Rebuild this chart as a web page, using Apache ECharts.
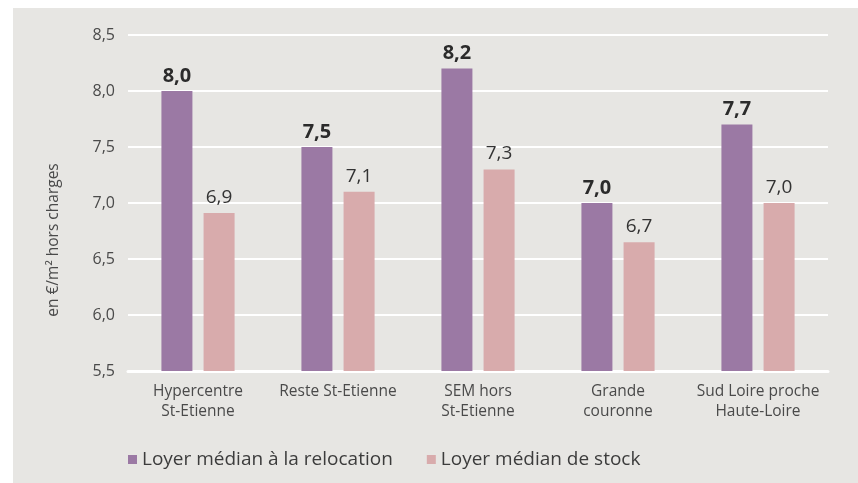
<!DOCTYPE html>
<html>
<head>
<meta charset="utf-8">
<script src="https://cdn.jsdelivr.net/npm/echarts@6/dist/echarts.min.js"></script>
<style>
    html, body {margin: 0; padding: 0; background: #ffffff;}
    #chart {position: absolute; left: 13px; top: 8px; width: 845px; height: 475px; background: #e7e6e3;}
</style>
</head>
<body>
<div id="chart"></div>
<script>
const FONT = '"Open Sans", sans-serif';

// ------------------ data ------------------
const categories = ['Hypercentre\nSt-Etienne', 'Reste St-Etienne', 'SEM hors\nSt-Etienne', 'Grande\ncouronne', 'Sud Loire proche\nHaute-Loire'];
const relocation = [8.0, 7.5, 8.2, 7.0, 7.7];   // Loyer médian à la relocation
const stock = [6.91, 7.1, 7.3, 6.65, 7.0];      // Loyer médian de stock
const yTicks = [5.5, 6.0, 6.5, 7.0, 7.5, 8.0, 8.5];

function frNum(v) {
    return Number(v).toFixed(1).replace('.', ',');
}

let myChart = echarts.init(document.getElementById('chart'), null, {renderer: 'canvas'});

let option = {
    animation: false,
    textStyle: {fontFamily: FONT},
    grid: {left: 115, right: 30, top: 27, bottom: 112},
    legend: {
        left: 110,
        top: 437,
        itemWidth: 9,
        itemHeight: 9,
        itemGap: 34,
        icon: 'rect',
        textStyle: {fontFamily: FONT, fontSize: 19, color: '#3c3c3c'},
        data: ['Loyer médian à la relocation', 'Loyer médian de stock']
    },
    xAxis: {
        type: 'category',
        data: categories,
        axisTick: {show: false},
        axisLine: {lineStyle: {color: '#ffffff', width: 3}},
        axisLabel: {fontFamily: FONT, fontSize: 15.5, color: '#4a4a4a', margin: 11, lineHeight: 20, interval: 0}
    },
    yAxis: {
        type: 'value',
        min: yTicks[0],
        max: yTicks[yTicks.length - 1],
        interval: 0.5,
        name: 'en €/m² hors charges',
        nameLocation: 'middle',
        nameGap: 66,
        // shift the title down a bit, as in the original
        nameTextStyle: {fontFamily: FONT, fontSize: 15.5, color: '#4a4a4a', padding: [0, 74, 0, 0]},
        axisLine: {show: false},
        axisTick: {show: false},
        splitLine: {lineStyle: {color: '#ffffff', width: 2}},
        axisLabel: {fontFamily: FONT, fontSize: 16, color: '#4a4a4a', margin: 13, formatter: frNum}
    },
    series: [
        {
            name: 'Loyer médian à la relocation',
            type: 'bar',
            data: relocation,
            barWidth: 31,
            barGap: '36%',
            itemStyle: {color: '#9b79a4'},
            label: {
                show: true, position: 'top', distance: 5,
                fontFamily: FONT, fontSize: 20, fontWeight: 'bold', color: '#2b2b2b',
                formatter: p => frNum(p.value)
            }
        },
        {
            name: 'Loyer médian de stock',
            type: 'bar',
            data: stock,
            barWidth: 31,
            itemStyle: {color: '#d8abac'},
            label: {
                show: true, position: 'top', distance: 6,
                fontFamily: FONT, fontSize: 19, color: '#333333',
                formatter: p => frNum(p.value)
            }
        }
    ]
};

myChart.setOption(option);
</script>
</body>
</html>
